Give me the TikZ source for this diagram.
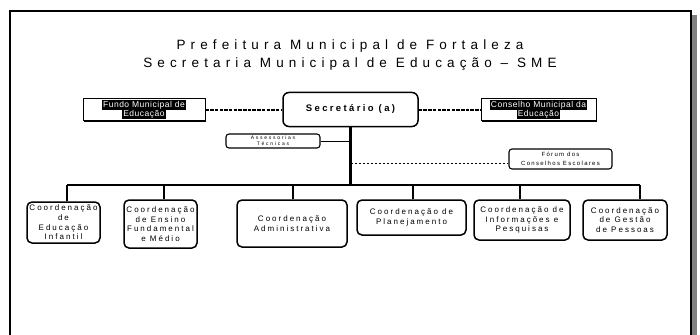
\documentclass[tikz,border=0pt]{standalone}
\usepackage{fontspec}
\setmainfont{Liberation Sans}
\usetikzlibrary{shadows}
\setlength{\fboxsep}{1pt}
\newcommand{\hl}[1]{\colorbox{black}{\textcolor{white}{#1}}}
\begin{document}
\begin{tikzpicture}[x=1pt,y=-1pt,
  coordbox/.style={draw, line width=1.5pt, rounded corners=5pt, align=center, inner sep=1pt,
    font={\fontsize{8}{9.6}\selectfont\addfontfeatures{LetterSpace=25}}},
  extbox/.style={draw, line width=0.8pt, align=center, inner sep=0pt, fill=white,
    drop shadow={fill=black, opacity=1, shadow xshift=1.2pt, shadow yshift=-1.2pt},
    font={\fontsize{8.5}{10}\selectfont\addfontfeatures{LetterSpace=6}}},
  smallbox/.style={draw, line width=1.1pt, rounded corners=3pt, align=center, inner sep=0pt},
  link/.style={line width=2pt, dash pattern=on 3.5pt off 1.2pt},
  dotlink/.style={line width=0.8pt, dash pattern=on 2pt off 2pt},
  thin/.style={line width=0.9pt},
  branch/.style={line width=2.2pt}
]
\useasboundingbox (0,0) rectangle (700,334);
% frame
\fill[gray] (692,15) rectangle (697,345);
\draw[line width=1.3pt] (10,11) rectangle (691,345);

% title
\node[align=center, font={\fontsize{13.5}{18}\selectfont\addfontfeatures{LetterSpace=38}}] (title) at (350,55)
  {Prefeitura Municipal de Fortaleza\\Secretaria Municipal de Educação – SME};

% top level
\node[draw, line width=1.5pt, rounded corners=6pt, minimum width=135pt, minimum height=34pt,
  font={\fontsize{9.5}{11}\selectfont\bfseries\addfontfeatures{LetterSpace=25}}] (sec) at (350.5,109.5) {Secretário (a)};
\node[extbox, minimum width=122pt, minimum height=22pt] (fundo) at (144,109.5)
  {\hl{Fundo Municipal de}\\[-1pt]\hl{Educação}};
\node[extbox, minimum width=115pt, minimum height=22pt] (cons) at (538.5,109.5)
  {\hl{Conselho Municipal da}\\[-1pt]\hl{Educação}};

\draw[link] (fundo.east) -- (sec.west);
\draw[link] (sec.east) -- (cons.west);

% staff
\node[smallbox, minimum width=94pt, minimum height=14pt,
  font={\fontsize{5}{6}\selectfont\addfontfeatures{LetterSpace=35}}] (ass) at (273,141) {Assessorias\\Técnicas};
\node[smallbox, minimum width=103pt, minimum height=20pt,
  font={\fontsize{6}{9}\selectfont\addfontfeatures{LetterSpace=22}}] (forum) at (560.5,159) {Fórum dos\\Conselhos Escolares};

\coordinate (barL) at (67,185);
\coordinate (barR) at (640,185);
\coordinate (tA) at (350.5,141);
\coordinate (tF) at (350.5,163);
\draw[branch] (sec.south) -- (sec.south |- barL);
\draw[thin] (ass.east) -- (tA);
\draw[dotlink] (tF) -- (tF -| forum.west);
\draw[line width=2.6pt] (barL) -- (barR);

% coordinations
\node[coordbox, minimum width=73pt, minimum height=41pt] (b1) at (63.5,222.5) {Coordenação\\de\\Educação\\Infantil};
\node[coordbox, minimum width=73pt, minimum height=48pt] (b2) at (160.5,224) {Coordenação\\de Ensino\\Fundamental\\e Médio};
\node[coordbox, minimum width=110pt, minimum height=47pt] (b3) at (292,223.5) {Coordenação\\Administrativa};
\node[coordbox, minimum width=109pt, minimum height=35pt] (b4) at (411.5,217.5) {Coordenação de\\Planejamento};
\node[coordbox, minimum width=96pt, minimum height=40pt] (b5) at (522,220) {Coordenação de\\Informações e\\Pesquisas};
\node[coordbox, minimum width=84pt, minimum height=40pt] (b6) at (625,220) {Coordenação\\de Gestão\\de Pessoas};

\coordinate (d1) at (67,185);
\coordinate (d2) at (164,185);
\coordinate (d3) at (293,185);
\coordinate (d4) at (413,185);
\coordinate (d5) at (520,185);
\coordinate (d6) at (640,185);
\foreach \d/\b in {d1/b1,d2/b2,d3/b3,d4/b4,d5/b5,d6/b6}
  \draw[branch] (\d) -- (\d |- \b.north);
\end{tikzpicture}
\end{document}
